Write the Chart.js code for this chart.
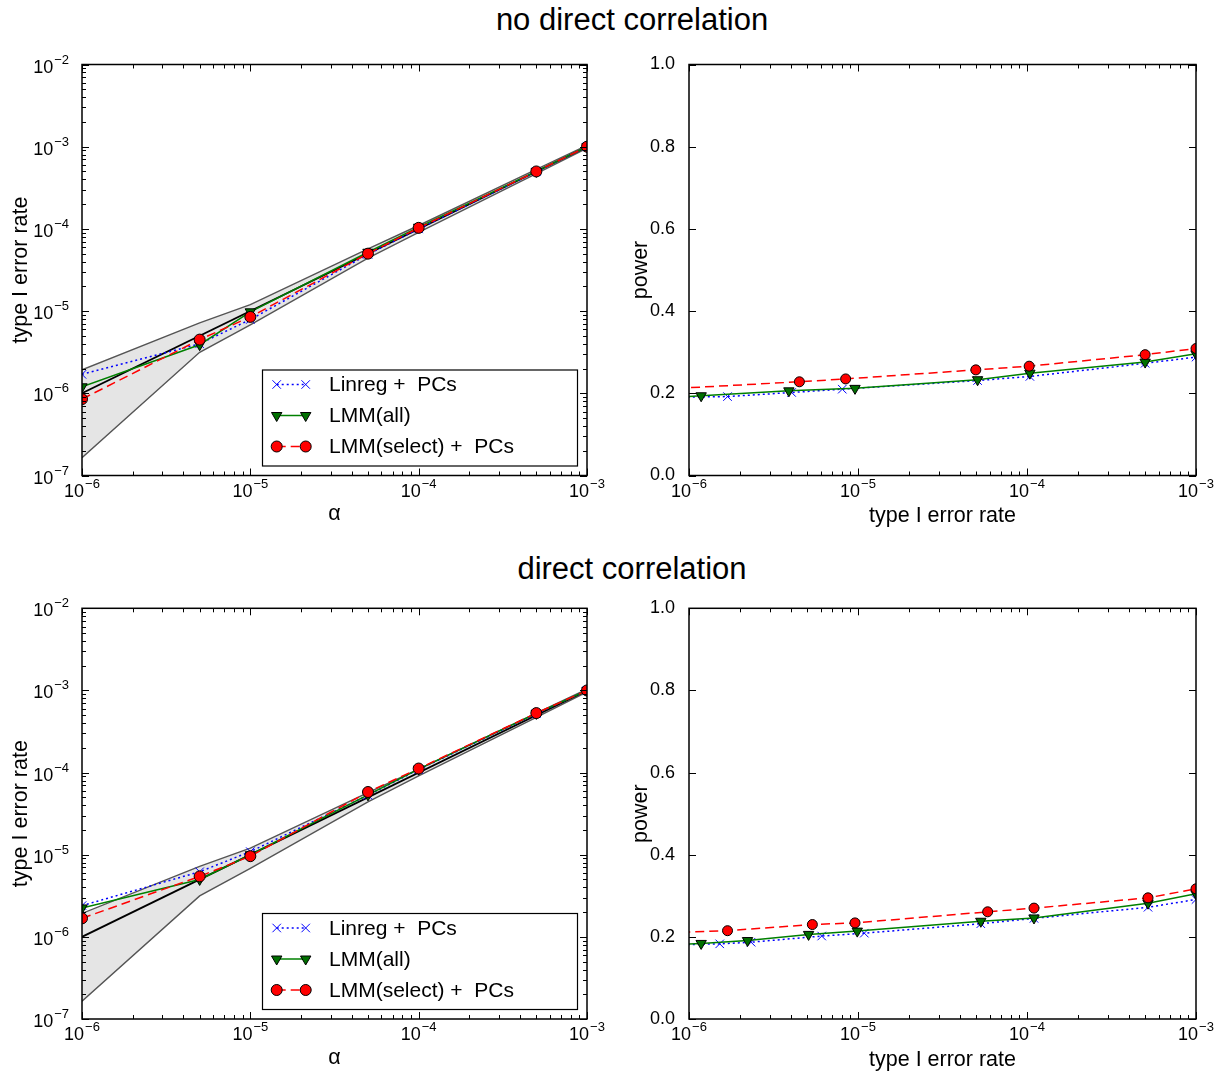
<!DOCTYPE html>
<html>
<head>
<meta charset="utf-8">
<script src="https://cdn.jsdelivr.net/npm/chart.js@4.4.1/dist/chart.umd.min.js"></script>
<style>
  body { margin:0; background:#fff; width:1218px; height:1075px; overflow:hidden; position:relative;
         font-family:"Liberation Sans", Arial, sans-serif; }
  .titulo { position:absolute; left:332px; width:600px; text-align:center; font-size:31px; line-height:40px; color:#000; }
  canvas { position:absolute; }
</style>
</head>
<body>
<div class="titulo" style="top:0px">no direct correlation</div>
<div class="titulo" style="top:549px">direct correlation</div>
<canvas id="c1" width="610" height="500" style="left:0;top:44px"></canvas>
<canvas id="c2" width="608" height="500" style="left:610px;top:44px"></canvas>
<canvas id="c3" width="610" height="487" style="left:0;top:588px"></canvas>
<canvas id="c4" width="608" height="487" style="left:610px;top:588px"></canvas>
<script>
// valores de alfa (eje x de las gráficas de la izquierda)
const alpha = [1e-6, 5e-6, 1e-5, 5e-5, 1e-4, 5e-4, 1e-3];
// banda gris (intervalo esperado)
const bandHigh = [1.93e-6, 7.2e-6, 1.2e-5, 5.7e-5, 1.1e-4, 5.3e-4, 1.04e-3];
const bandLow  = [1.65e-7, 3.15e-6, 6.8e-6, 4.4e-5, 9.1e-5, 4.7e-4, 9.6e-4];

// no direct correlation - type I error rate
const t1Linreg = [1.7e-6, 4.0e-6, 7.9e-6, 4.9e-5, 1.0e-4, 4.95e-4, 1.0e-3];
const t1All    = [1.2e-6, 3.9e-6, 9.8e-6, 5.2e-5, 1.05e-4, 5.0e-4, 1.0e-3];
const t1Sel    = [8.5e-7, 4.5e-6, 8.5e-6, 5.0e-5, 1.03e-4, 5.0e-4, 1.0e-3];

// no direct correlation - power
const p1LinregX = [7e-7, 1.69e-6, 4.05e-6, 8.07e-6, 5.1e-5, 1.04e-4, 5.0e-4, 1.0e-3];
const p1Linreg  = [0.190, 0.192, 0.202, 0.210, 0.231, 0.241, 0.273, 0.288];
const p1AllX    = [7e-7, 1.18e-6, 3.9e-6, 9.6e-6, 5.1e-5, 1.04e-4, 5.0e-4, 1.0e-3];
const p1All     = [0.188, 0.194, 0.206, 0.212, 0.233, 0.249, 0.276, 0.296];
const p1SelX    = [8.5e-7, 4.5e-6, 8.45e-6, 4.98e-5, 1.03e-4, 5.0e-4, 1.0e-3];
const p1Sel     = [0.212, 0.228, 0.235, 0.257, 0.266, 0.294, 0.309];

// direct correlation - type I error rate
const t2Linreg = [2.4e-6, 6.2e-6, 1.09e-5, 5.3e-5, 1.09e-4, 5.2e-4, 1.0e-3];
const t2All    = [2.25e-6, 5.0e-6, 1.0e-5, 5.35e-5, 1.1e-4, 5.25e-4, 1.0e-3];
const t2Sel    = [1.68e-6, 5.45e-6, 9.6e-6, 5.8e-5, 1.12e-4, 5.3e-4, 1.0e-3];

// direct correlation - power
const p2LinregX = [7e-7, 1.52e-6, 2.33e-6, 6.1e-6, 1.09e-5, 5.33e-5, 1.1e-4, 5.2e-4, 1.0e-3];
const p2Linreg  = [0.180, 0.183, 0.187, 0.202, 0.209, 0.232, 0.245, 0.272, 0.291];
const p2AllX    = [7e-7, 1.18e-6, 2.22e-6, 5.1e-6, 9.9e-6, 5.33e-5, 1.1e-4, 5.2e-4, 1.0e-3];
const p2All     = [0.179, 0.184, 0.191, 0.206, 0.214, 0.238, 0.246, 0.282, 0.305];
const p2SelX    = [9e-7, 1.69e-6, 5.37e-6, 9.6e-6, 5.85e-5, 1.1e-4, 5.2e-4, 1.0e-3];
const p2Sel     = [0.211, 0.215, 0.230, 0.234, 0.261, 0.270, 0.295, 0.317];

const powerTicks = [0, 0.2, 0.4, 0.6, 0.8, 1.0];

const FUENTE = '"Liberation Sans", Arial, sans-serif';
Chart.defaults.font.family = FUENTE;
Chart.defaults.color = '#000';

// ticks 1..9 x 10^n para los ejes logaritmicos
function ticksLog(scale) {
  const ticks = [];
  const e0 = Math.round(Math.log10(scale.min)), e1 = Math.round(Math.log10(scale.max));
  for (let e = e0; e < e1; e++)
    for (let m = 1; m < 10; m++) ticks.push({value: m * Math.pow(10, e), major: m === 1});
  ticks.push({value: scale.max, major: true});
  scale.ticks = ticks;
}

// etiqueta 10^n con exponente en superindice
function etiquetaPot(ctx, v, x, yBase, alinear) {
  const exp = String(Math.round(Math.log10(v))).replace('-', '\u2212');
  ctx.font = '18px ' + FUENTE;
  const w1 = ctx.measureText('10').width;
  ctx.font = '13px ' + FUENTE;
  const w2 = ctx.measureText(exp).width;
  const w = w1 + 1 + w2;
  const x0 = alinear === 'center' ? x - w / 2 : x - w;
  ctx.textAlign = 'left';
  ctx.textBaseline = 'alphabetic';
  ctx.font = '18px ' + FUENTE;
  ctx.fillText('10', x0, yBase);
  ctx.font = '13px ' + FUENTE;
  ctx.fillText(exp, x0 + w1 + 1, yBase - 9);
}

function pts(xs, ys) { return xs.map((x, i) => ({x: x, y: ys[i]})); }

const estiloLinreg = {label:'Linreg +  PCs', borderColor:'#0000ff', borderWidth:1.5, borderDash:[2,3],
  pointStyle:'crossRot', pointRadius:6, pointBorderColor:'#0000ff', pointBackgroundColor:'#0000ff', pointBorderWidth:1};
const estiloAll = {label:'LMM(all)', borderColor:'#008000', borderWidth:1.5,
  pointStyle:'triangle', pointRotation:180, pointRadius:6, pointBackgroundColor:'#007000', pointBorderColor:'#000', pointBorderWidth:1};
const estiloSel = {label:'LMM(select) +  PCs', borderColor:'#ff0000', borderWidth:1.5, borderDash:[9,5],
  pointStyle:'circle', pointRadius:5.5, pointBackgroundColor:'#ff0000', pointBorderColor:'#000', pointBorderWidth:1};

// marco, ticks hacia dentro, etiquetas log y leyenda
const marcoPlugin = {
  id: 'marco',
  afterDraw(chart) {
    const {ctx, chartArea: a, scales} = chart;
    ctx.save();
    ctx.strokeStyle = '#000';
    ctx.fillStyle = '#000';
    ctx.lineWidth = 1;
    ctx.setLineDash([]);
    scales.x.ticks.forEach(t => {
      const len = t.major === false ? 4 : 7;
      const p = Math.round(scales.x.getPixelForValue(t.value)) + 0.5;
      ctx.beginPath();
      ctx.moveTo(p, a.bottom); ctx.lineTo(p, a.bottom - len);
      ctx.moveTo(p, a.top); ctx.lineTo(p, a.top + len);
      ctx.stroke();
      if (t.major && scales.x.type === 'logarithmic')
        etiquetaPot(ctx, t.value, scales.x.getPixelForValue(t.value), a.bottom + 21, 'center');
    });
    scales.y.ticks.forEach(t => {
      const len = t.major === false ? 4 : 7;
      const p = Math.round(scales.y.getPixelForValue(t.value)) + 0.5;
      ctx.beginPath();
      ctx.moveTo(a.left, p); ctx.lineTo(a.left + len, p);
      ctx.moveTo(a.right, p); ctx.lineTo(a.right - len, p);
      ctx.stroke();
      if (t.major && scales.y.type === 'logarithmic')
        etiquetaPot(ctx, t.value, a.left - 13, scales.y.getPixelForValue(t.value) + 8, 'right');
    });
    ctx.lineWidth = 1.5;
    ctx.strokeRect(a.left, a.top, a.width, a.height);

    if (chart.options.plugins.marco && chart.options.plugins.marco.leyenda) {
      const items = chart.data.datasets.filter(d => d.label).reverse();
      const w = 315, h = 96;
      const x0 = a.right - 10 - w, y0 = a.bottom - 10 - h;
      ctx.fillStyle = '#fff';
      ctx.fillRect(x0, y0, w, h);
      ctx.lineWidth = 1.2;
      ctx.strokeRect(x0 + 0.5, y0 + 0.5, w, h);
      items.forEach((d, i) => {
        const y = y0 + 15 + 31 * i;
        const xa = x0 + 14.7, xb = x0 + 43.7;
        ctx.save();
        ctx.strokeStyle = d.borderColor;
        ctx.lineWidth = d.borderWidth;
        ctx.setLineDash(d.borderDash || []);
        ctx.beginPath(); ctx.moveTo(xa, y); ctx.lineTo(xb, y); ctx.stroke();
        ctx.setLineDash([]);
        ctx.fillStyle = d.pointBackgroundColor;
        ctx.strokeStyle = d.pointBorderColor;
        ctx.lineWidth = d.pointBorderWidth;
        [xa, xb].forEach(px => Chart.helpers.drawPoint(ctx,
          {pointStyle: d.pointStyle, rotation: d.pointRotation || 0, radius: d.pointRadius, borderWidth: d.pointBorderWidth}, px, y));
        ctx.restore();
        ctx.fillStyle = '#000';
        ctx.font = '21px ' + FUENTE;
        ctx.textBaseline = 'middle';
        ctx.textAlign = 'left';
        ctx.fillText(d.label, x0 + 67, y + 1);
      });
    }
    ctx.restore();
  }
};

function ejeX(titulo, alto, padTitulo) {
  return {
    type: 'logarithmic', min: 1e-6, max: 1e-3,
    grid: {display: false}, border: {display: false},
    afterBuildTicks: ticksLog,
    afterFit: s => { s.height = alto; s.paddingLeft = 0; s.paddingRight = 0; },
    ticks: {display: false},
    title: {display: true, text: titulo, font: {size: 21.5}, padding: {top: 0, bottom: padTitulo}}
  };
}

function graficaError(id, tLin, tAll, tSel, padTop, altoX, padTitulo) {
  return new Chart(document.getElementById(id), {
    type: 'line',
    data: {
      datasets: [
        Object.assign({data: pts(alpha, tSel)}, estiloSel),
        Object.assign({data: pts(alpha, tAll)}, estiloAll),
        Object.assign({data: pts(alpha, tLin)}, estiloLinreg),
        {data: pts([alpha[0], alpha[alpha.length - 1]], [alpha[0], alpha[alpha.length - 1]]),
          borderColor: '#000', borderWidth: 1.8, pointRadius: 0},
        {data: pts(alpha, bandLow), borderColor: '#555', borderWidth: 1.4, pointRadius: 0},
        {data: pts(alpha, bandHigh), borderColor: '#555', borderWidth: 1.4, pointRadius: 0,
          fill: 4, backgroundColor: '#e5e5e5'}
      ]
    },
    options: {
      responsive: false, animation: false, events: [],
      layout: {padding: {top: padTop, right: 23, left: 0, bottom: 0}},
      plugins: {legend: {display: false}, tooltip: {enabled: false}, marco: {leyenda: true}},
      scales: {
        x: ejeX('α', altoX, padTitulo),
        y: {
          type: 'logarithmic', min: 1e-7, max: 1e-2,
          grid: {display: false}, border: {display: false},
          afterBuildTicks: ticksLog,
          afterFit: s => { s.width = 82; s.paddingTop = 0; s.paddingBottom = 0; },
          ticks: {display: false},
          title: {display: true, text: 'type I error rate', font: {size: 21.5}, padding: {top: 8, bottom: 0}}
        }
      }
    },
    plugins: [marcoPlugin]
  });
}

function graficaPotencia(id, lx, ly, ax, ay, sx, sy, padTop, altoX, padTitulo) {
  return new Chart(document.getElementById(id), {
    type: 'line',
    data: {
      datasets: [
        Object.assign({data: pts(sx, sy)}, estiloSel, {pointRadius: 5}),
        Object.assign({data: pts(ax, ay)}, estiloAll, {pointRadius: 6}),
        Object.assign({data: pts(lx, ly)}, estiloLinreg, {pointRadius: 6})
      ]
    },
    options: {
      responsive: false, animation: false, events: [],
      layout: {padding: {top: padTop, right: 22, left: 0, bottom: 0}},
      plugins: {legend: {display: false}, tooltip: {enabled: false}, marco: {leyenda: false}},
      scales: {
        x: ejeX('type I error rate', altoX, padTitulo),
        y: {
          type: 'linear', min: 0, max: 1,
          grid: {display: false}, border: {display: false},
          afterBuildTicks: s => { s.ticks = powerTicks.map(v => ({value: v})); },
          afterFit: s => { s.width = 79; s.paddingTop = 0; s.paddingBottom = 0; },
          ticks: {autoSkip: false, padding: 6, font: {size: 18}, callback: v => v.toFixed(1)},
          title: {display: true, text: 'power', font: {size: 21.5}, padding: {top: 18, bottom: 0}}
        }
      }
    },
    plugins: [marcoPlugin]
  });
}

graficaError('c1', t1Linreg, t1All, t1Sel, 20.5, 68.5, 17);
graficaPotencia('c2', p1LinregX, p1Linreg, p1AllX, p1All, p1SelX, p1Sel, 20.5, 68.5, 15);
graficaError('c3', t2Linreg, t2All, t2Sel, 20.3, 56, 4);
graficaPotencia('c4', p2LinregX, p2Linreg, p2AllX, p2All, p2SelX, p2Sel, 20.3, 56, 2);
</script>
</body>
</html>
